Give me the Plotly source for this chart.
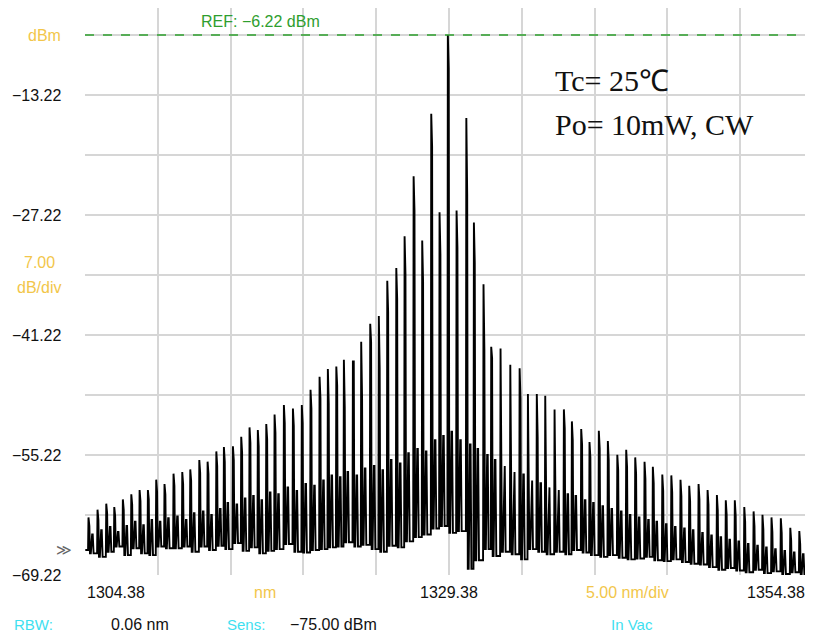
import plotly.graph_objects as go

# ---------------- data ----------------
# wavelength of each longitudinal mode (nm)
mode_nm = [
    1304.65, 1305.27, 1305.87, 1306.42, 1307.01, 1307.59, 1308.16, 1308.73, 1309.30, 1309.87,
    1310.49, 1311.09, 1311.64, 1312.26, 1312.83, 1313.43, 1313.95, 1314.57, 1315.14, 1315.71,
    1316.28, 1316.86, 1317.43, 1318.07, 1318.69, 1319.30, 1319.90, 1320.52, 1321.09, 1321.67,
    1322.19, 1322.81, 1323.38, 1324.00, 1324.59, 1325.17, 1325.79, 1326.36, 1326.98, 1327.57,
    1328.19, 1328.76, 1329.33, 1329.93, 1330.60, 1331.12, 1331.78, 1332.31, 1332.95, 1333.62,
    1334.26, 1334.83, 1335.44, 1336.02, 1336.66, 1337.30, 1337.85, 1338.49, 1339.06, 1339.70,
    1340.32, 1340.97, 1341.58, 1342.20, 1342.84, 1343.41, 1344.06, 1344.68, 1345.31, 1345.91,
    1346.55, 1347.17, 1347.81, 1348.42, 1349.04, 1349.69, 1350.33, 1350.94, 1351.56, 1352.20,
    1352.85, 1353.47, 1354.08,
]
# peak power of each mode (dBm)
peak_dbm = [
    -62.5, -61.6, -60.9, -61.3, -60.4, -59.8, -59.3, -59.3, -58.1, -58.6,
    -57.4, -57.2, -56.9, -55.8, -56.0, -54.8, -54.3, -54.2, -53.1, -52.0,
    -52.3, -51.6, -50.5, -49.4, -49.8, -49.4, -47.6, -46.1, -45.2, -44.9,
    -44.1, -44.3, -42.0, -39.9, -39.0, -34.9, -33.4, -29.7, -22.7, -30.2,
    -15.4, -26.9, -6.22, -26.7, -15.9, -28.1, -35.3, -42.6, -42.8, -44.7,
    -45.1, -48.1, -48.1, -48.3, -49.9, -49.9, -51.3, -52.2, -53.7, -52.4,
    -53.6, -55.2, -54.6, -55.5, -56.0, -56.6, -57.5, -57.6, -58.1, -58.8,
    -58.6, -59.3, -59.9, -60.5, -60.5, -61.3, -61.8, -62.2, -62.5, -62.6,
    -63.7, -64.1, -64.3,
]
# level where the thin tip of each mode widens into the thick stroke (dBm)
shoulder_dbm = [
    -63.5, -62.8, -62.0, -62.3, -61.6, -61.0, -60.6, -60.4, -59.5, -59.8,
    -58.8, -58.6, -58.2, -57.3, -57.4, -56.5, -56.0, -55.8, -54.9, -53.8,
    -54.2, -53.4, -52.6, -51.5, -51.8, -51.5, -49.8, -48.6, -49.2, -47.1,
    -49.6, -44.3, -48.6, -42.0, -45.1, -38.5, -37.0, -34.1, -26.7, -35.0,
    -19.2, -31.8, -10.1, -31.0, -24.8, -32.8, -42.9, -43.9, -50.4, -53.1,
    -48.6, -56.8, -53.1, -60.5, -56.0, -52.1, -53.5, -54.0, -55.5, -54.5,
    -55.8, -57.0, -56.6, -57.4, -58.0, -58.5, -59.4, -59.6, -60.0, -60.6,
    -60.4, -61.0, -61.7, -62.2, -62.3, -63.0, -63.5, -63.9, -64.2, -64.3,
    -65.2, -65.6, -65.8,
]
# weaker secondary bump that follows each mode (dBm)
second_dbm = [
    -64.5, -64.0, -63.6, -64.2, -63.5, -63.0, -63.4, -62.8, -63.0, -62.6,
    -62.4, -62.8, -62.0, -61.8, -62.2, -61.5, -60.8, -61.0, -60.3, -60.0,
    -60.5, -59.6, -59.8, -59.0, -59.4, -58.6, -58.8, -58.2, -57.6, -57.8,
    -57.2, -57.6, -56.8, -56.5, -57.0, -55.8, -56.2, -55.0, -54.5, -54.8,
    -53.5, -53.0, -52.5, -53.5, -54.0, -54.5, -55.2, -55.8, -56.5, -57.2,
    -57.5, -58.2, -58.5, -59.0, -59.3, -59.8, -60.0, -60.5, -60.8, -61.2,
    -61.5, -61.8, -62.2, -62.5, -62.8, -63.0, -63.3, -63.6, -63.8, -64.0,
    -64.3, -64.6, -64.8, -65.1, -65.3, -65.6, -65.8, -66.0, -66.2, -66.4,
    -66.6, -66.8, -67.0,
]
# floor level reached after each mode (dBm)
valley_dbm = [
    -66.7, -67.1, -66.5, -65.9, -66.9, -66.1, -66.7, -66.9, -65.9, -66.1,
    -66.1, -65.9, -66.5, -65.9, -66.3, -65.8, -66.2, -65.5, -66.4, -66.0,
    -66.7, -66.4, -66.2, -65.6, -66.5, -66.6, -66.3, -66.2, -66.0, -65.9,
    -65.4, -65.9, -65.7, -66.2, -66.5, -65.8, -66.0, -65.3, -64.8, -64.5,
    -63.8, -63.5, -64.3, -64.1, -68.5, -67.5, -66.2, -67.0, -66.5, -66.8,
    -67.4, -66.2, -66.5, -66.8, -66.5, -66.8, -66.3, -66.6, -66.9, -67.1,
    -66.9, -67.2, -67.4, -67.3, -67.1, -67.5, -67.6, -67.4, -67.7, -67.9,
    -68.0, -68.3, -68.6, -68.4, -68.7, -68.9, -68.6, -69.0, -68.8, -69.1,
    -68.9, -69.2, -69.1,
]
start_dbm = -66.3

x_ticks_nm = [1304.38 + 5 * k for k in range(11)]
y_grid_dbm = [-69.22 + 7 * k for k in range(10)]
y_tick_labels = ["\u221213.22", "\u221227.22", "\u221241.22", "\u221255.22", "\u221269.22"]
y_tick_values = [-13.22, -27.22, -41.22, -55.22, -69.22]
x_tick_labels = ["1304.38", "1329.38", "1354.38"]
ref_dbm = -6.22

assert (len(mode_nm) == len(peak_dbm) == len(valley_dbm)
        == len(second_dbm) == len(shoulder_dbm))

# ---------------- build the trace ----------------
xs = [1304.40]
ys = [start_dbm]
prev_v = start_dbm
for lam, p, sh, s, v in zip(mode_nm, peak_dbm, shoulder_dbm, second_dbm, valley_dbm):
    xs += [lam - 0.06, lam - 0.03, lam + 0.01, lam + 0.03, lam + 0.07, lam + 0.13,
           lam + 0.22, lam + 0.26, lam + 0.32, lam + 0.42]
    ys += [prev_v, p, sh, sh, v, v, s, s, v, v]
    prev_v = v

# the page body has an 8px margin: the figure is sized and placed for it
OFF = 8
W, H = 813 - OFF, 637 - OFF
L, R, T, B = 85 - OFF, 0, 0, 62
PW, PH = W - L - R, H - T - B
X0, X1 = 1304.38, 1354.38
Y0 = -69.22
Y1 = Y0 + PH / 60 * 7


def pxx(x):  # reference pixel -> data x
    return X0 + (x - 85) / PW * (X1 - X0)


def pxy(y):  # reference pixel -> data y
    return ref_dbm - (y - 35) / 60 * 7


fig = go.Figure()
fig.add_trace(go.Scatter(x=xs, y=ys, mode="lines",
                         line=dict(color="black", width=1.9),
                         hoverinfo="skip", showlegend=False))

# REF line
fig.add_shape(type="line", x0=X0, x1=X1, y0=ref_dbm, y1=ref_dbm,
              line=dict(color="#2ea02e", width=1.6, dash="dash"), layer="above")
# white box behind the text
fig.add_shape(type="rect", x0=pxx(524), x1=pxx(748), y0=pxy(163), y1=pxy(57),
              fillcolor="white", line=dict(width=0), layer="below")

grid = "#d6d6d6"
fig.update_xaxes(range=[X0, X1], tickvals=x_ticks_nm, showticklabels=False,
                 showgrid=True, gridcolor=grid, gridwidth=2, zeroline=False,
                 showline=False, ticks="")
fig.update_yaxes(range=[Y0, Y1], tickvals=y_grid_dbm, showticklabels=False,
                 showgrid=True, gridcolor=grid, gridwidth=2, zeroline=False,
                 showline=False, ticks="")

ann = []
FONT = "Liberation Sans, Arial, sans-serif"
BLACK = "#111111"
YEL = "#f2c64a"
CYAN = "#3ee0f0"
GREEN = "#2e9e2e"


def add(text, x, y, color=BLACK, size=16, xanchor="center", font=FONT):
    # x, y in reference-picture pixels
    px_ = x - OFF - L
    py_ = (H - B) - (y - OFF)
    ann.append(dict(text=text, x=px_ / PW, y=py_ / PH, xref="paper", yref="paper",
                    xanchor=xanchor, yanchor="middle", showarrow=False,
                    font=dict(family=font, size=size, color=color)))


add("dBm", 63, 35, YEL, 16, "right")
for lab, val in zip(y_tick_labels, y_tick_values):
    add(lab, 63, 35 + (ref_dbm - val) / 7 * 60, BLACK, 16, "right")
add("7.00", 39, 262, YEL, 16)
add("dB/div", 39, 287, YEL, 16)
add("\u226b", 64, 549, "#666666", 15, "center")

add(x_tick_labels[0], 85, 592, BLACK, 16, "left")
add("nm", 265, 592, YEL, 16)
add(x_tick_labels[1], 449, 592, BLACK, 16)
add("5.00 nm/div", 627, 592, YEL, 16)
add(x_tick_labels[2], 807, 592, BLACK, 16, "right")

add("RBW:", 12, 625, CYAN, 15, "left")
add("0.06 nm", 109, 625, BLACK, 16, "left")
add("Sens:", 225, 625, CYAN, 15, "left")
add("\u221275.00 dBm", 288, 625, BLACK, 16, "left")
add("In Vac", 632, 625, CYAN, 15)

add("REF: \u22126.22 dBm", 260, 21, GREEN, 16)

SERIF = "Liberation Serif, Times New Roman, serif"
add("Tc= 25\u2103", 553, 80, BLACK, 30, "left", SERIF)
add("Po= 10mW, CW", 553, 124, BLACK, 30, "left", SERIF)

fig.update_layout(width=W, height=H, autosize=False,
                  margin=dict(l=L, r=R, t=T, b=B, pad=0),
                  paper_bgcolor="white", plot_bgcolor="white",
                  annotations=ann, showlegend=False)

fig.write_html("out.html")
